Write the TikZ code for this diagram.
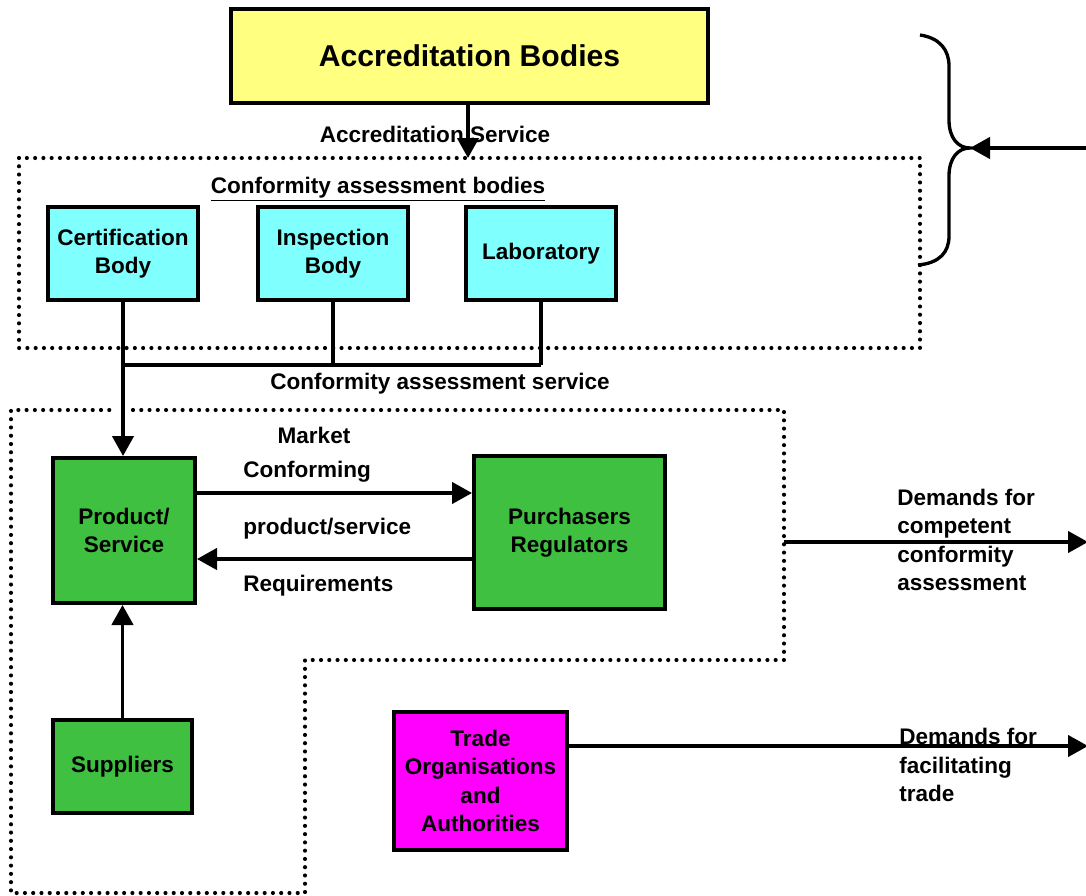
\documentclass[tikz,border=0pt]{standalone}
\usepackage{fontspec}
\setmainfont{Liberation Sans}
\usetikzlibrary{arrows.meta}
\definecolor{abyellow}{HTML}{FFFF80}
\definecolor{cabcyan}{HTML}{80FFFF}
\definecolor{mktgreen}{HTML}{40C040}
\definecolor{trademag}{HTML}{FF00FF}
\tikzset{
  box/.style={draw=black, line width=3pt, inner sep=0pt, align=center,
    font=\bfseries\fontsize{16.9}{21.4}\selectfont},
  lbl/.style={inner sep=0pt, align=center, font=\bfseries\fontsize{16.9}{21.4}\selectfont},
  lbll/.style={lbl, anchor=west, align=left},
  conn/.style={line width=2.5pt},
  arr/.style={conn, -{Triangle[length=15pt,width=16pt]}},
  dotline/.style={line width=3.1pt, line cap=round, dash pattern=on 0pt off 6.2pt},
}
\begin{document}
\begin{tikzpicture}[x=0.75pt,y=-0.75pt]
\useasboundingbox (0,0) rectangle (1086,896);

% boxes
\node[box, fill=abyellow, minimum width=357.75pt, minimum height=70.5pt,
  font=\bfseries\fontsize{22.6}{27}\selectfont] (ab) at (469.5,56) {Accreditation Bodies};
\node[box, fill=cabcyan, minimum width=112.5pt, minimum height=69.75pt] (cert) at (123,253.5) {Certification\\Body};
\node[box, fill=cabcyan, minimum width=112.5pt, minimum height=69.75pt] (insp) at (333,253.5) {Inspection\\Body};
\node[box, fill=cabcyan, minimum width=112.5pt, minimum height=69.75pt] (lab) at (541,253.5) {Laboratory};
\node[box, fill=mktgreen, minimum width=106.5pt, minimum height=108.75pt] (prod) at (124,530.5) {Product/\\Service};
\node[box, fill=mktgreen, minimum width=143.25pt, minimum height=114.75pt] (purch) at (569.5,532.5) {Purchasers\\Regulators};
\node[box, fill=mktgreen, minimum width=104.25pt, minimum height=69.75pt] (sup) at (122.5,766.5) {\raisebox{-2pt}{Suppliers}};
\node[box, fill=trademag, minimum width=129.75pt, minimum height=103.5pt] (trade) at (480.5,781) {Trade\\Organisations\\and\\Authorities};

% dotted regions
\draw[dotline] (19,158) rectangle (920,348);
\draw[dotline] (133,410) -- (784,410) -- (784,660) -- (305,660) -- (305,893) -- (11,893) -- (11,410) -- (115,410);

% labels
\node[lbl] (accsrv) at (435,134) {Accreditation Service};
\node[lbl] (cabt) at (378,189) {\underline{Conformity assessment bodies}};
\node[lbl] (cass) at (440,384) {Conformity assessment service};
\node[lbl] (mkt) at (314,435) {Market};
\node[lbll] (conf) at (243,472) {Conforming};
\node[lbll] (prodsrv) at (243,529) {product/service};
\node[lbll] (req) at (243,586) {Requirements};
\node[lbll] (dem1) at (897,540) {Demands for\\competent\\conformity\\assessment};
\node[lbll] (dem2) at (899,765) {Demands for\\facilitating\\trade};

% coordinates
\coordinate (casTop) at (468,158);
\coordinate (junc) at (123,365);
\coordinate (injunc) at (333,365);
\coordinate (labjunc) at (541,365);
\coordinate (confy) at (0,493);
\coordinate (reqy) at (0,559);
\coordinate (mkE) at (784,542);
\coordinate (dem1end) at (1088,542);
\coordinate (trE) at (567,746);
\coordinate (dem2end) at (1088,746);
\coordinate (brTip) at (970,148);
\coordinate (brStart) at (1086,148);

% connectors
\draw[arr] (ab.south -| casTop) -- (casTop);
\draw[arr] (cert.south) -- (cert.south |- prod.north);
\draw[conn] (insp.south) -- (injunc);
\draw[conn] (lab.south) -- (labjunc);
\draw[conn] (junc) -- (labjunc);
\draw[arr] (prod.east |- confy) -- (purch.west |- confy);
\draw[arr] (purch.west |- reqy) -- (prod.east |- reqy);
\draw[arr] (sup.north) -- (sup.north |- prod.south);
\draw[arr] (mkE) -- (dem1end);
\draw[arr] (trE) -- (dem2end);
\draw[arr] (brStart) -- (brTip);

% brace
\draw[line width=2.5pt] (920,35) .. controls (940,38) and (949,50) .. (949,66) -- (949,120)
  .. controls (949,138) and (958,148) .. (brTip)
  .. controls (958,148) and (949,158) .. (949,176) -- (949,236)
  .. controls (949,252) and (940,263) .. (918,265);
\end{tikzpicture}
\end{document}
